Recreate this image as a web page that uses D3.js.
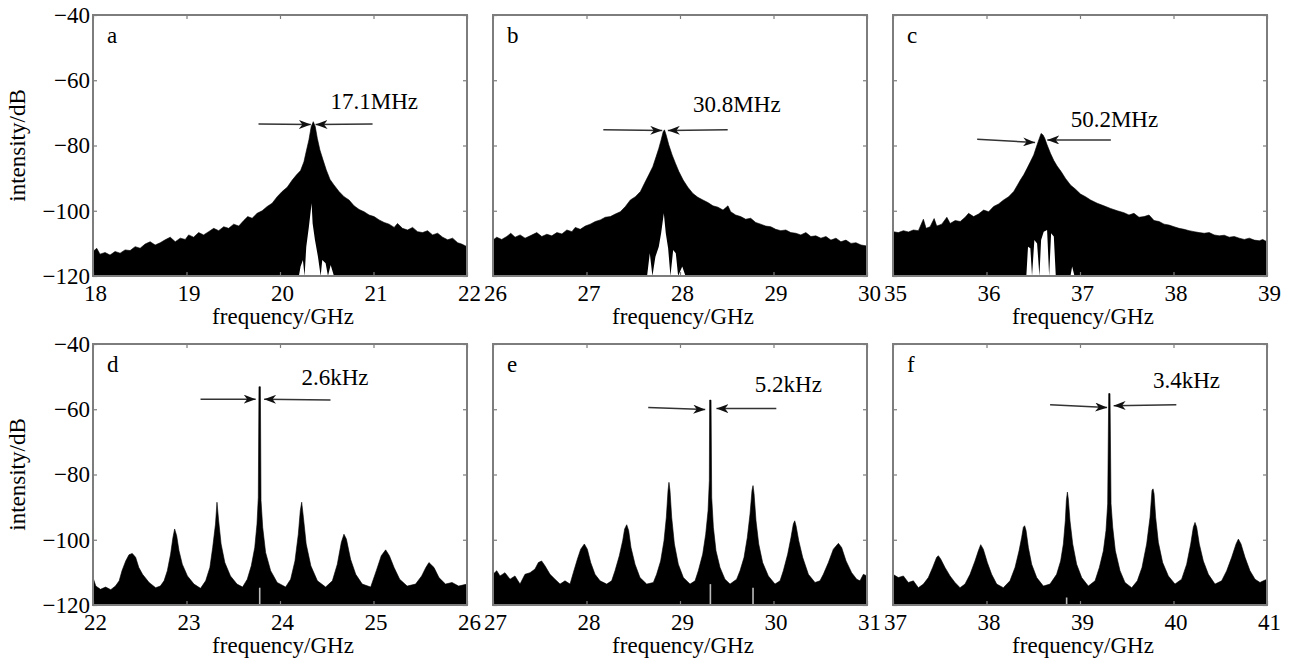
<!DOCTYPE html>
<html>
<head>
<meta charset="utf-8">
<script src="https://cdn.jsdelivr.net/npm/d3@7"></script>
<style>
  body { margin: 0; background: #fff; }
  text { font-family: "Liberation Serif", "Times New Roman", serif; }
</style>
</head>
<body>
<script>
// ---- data (GHz, dB) ----
var yTicks = [-40, -60, -80, -100, -120];
var xTicksA = [18, 19, 20, 21, 22], xTicksB = [26, 27, 28, 29, 30], xTicksC = [35, 36, 37, 38, 39];
var xTicksD = [22, 23, 24, 25, 26], xTicksE = [27, 28, 29, 30, 31], xTicksF = [37, 38, 39, 40, 41];

var freqA = [18.0,18.04,18.075,18.129,18.182,18.236,18.29,18.343,18.397,18.451,18.504,18.558,18.611,18.665,18.719,18.772,18.826,18.88,18.933,18.987,19.023,19.076,19.13,19.183,19.237,19.291,19.344,19.398,19.451,19.505,19.559,19.612,19.655,19.702,19.755,19.809,19.863,19.916,19.97,20.023,20.077,20.131,20.177,20.22,20.256,20.284,20.309,20.334,20.356,20.377,20.399,20.427,20.46,20.495,20.535,20.577,20.631,20.685,20.738,20.792,20.846,20.899,20.953,21.006,21.06,21.114,21.167,21.221,21.257,21.31,21.364,21.418,21.471,21.525,21.578,21.632,21.686,21.739,21.793,21.846,21.9,21.943,22.0];
var dbA = [-112.5,-111.5,-113.3,-112.8,-113.6,-112.5,-113.0,-112.0,-112.2,-111.0,-111.5,-110.2,-109.5,-110.5,-109.8,-108.9,-108.1,-109.5,-108.4,-108.8,-107.4,-108.1,-106.7,-107.4,-106.4,-105.4,-106.1,-104.9,-105.4,-104.1,-104.7,-103.0,-101.8,-102.3,-100.8,-100.0,-98.7,-97.7,-95.7,-94.1,-92.8,-90.6,-89.0,-87.7,-85.0,-81.4,-78.3,-74.2,-72.7,-74.2,-77.8,-81.4,-84.4,-87.5,-90.4,-92.1,-94.1,-95.7,-96.7,-98.5,-99.6,-100.3,-101.3,-101.8,-102.8,-103.6,-104.1,-105.1,-103.9,-105.4,-105.9,-105.1,-106.4,-106.7,-106.1,-107.4,-106.9,-108.1,-108.9,-108.4,-109.8,-110.2,-111.0];
var gapFreqA = [20.202,20.22,20.245,20.263,20.281,20.309,20.338,20.349,20.374,20.406,20.435,20.452,20.488,20.513,20.542,20.577];
var gapDbA = [-120,-117.1,-115.1,-120,-111.0,-104.9,-97.7,-103.9,-109.0,-114.1,-120,-115.1,-116.1,-120,-116.6,-120];

var freqB = [26.0,26.04,26.093,26.147,26.19,26.236,26.29,26.343,26.397,26.468,26.522,26.576,26.629,26.683,26.737,26.79,26.844,26.88,26.933,26.987,27.04,27.094,27.148,27.201,27.255,27.308,27.362,27.416,27.469,27.523,27.577,27.62,27.666,27.709,27.745,27.773,27.798,27.82,27.834,27.852,27.88,27.916,27.952,27.988,28.034,28.084,28.138,28.191,28.245,28.299,28.352,28.406,28.46,28.513,28.542,28.595,28.649,28.703,28.756,28.81,28.863,28.917,28.971,29.024,29.078,29.132,29.185,29.239,29.292,29.346,29.4,29.453,29.507,29.561,29.614,29.668,29.721,29.775,29.829,29.882,29.936,30.0];
var dbB = [-109.0,-108.1,-108.8,-107.9,-106.9,-108.1,-107.4,-108.4,-107.7,-106.7,-107.9,-107.2,-107.7,-106.7,-107.1,-105.9,-106.4,-105.1,-105.7,-104.7,-104.1,-103.3,-102.8,-102.0,-101.8,-101.0,-100.3,-98.7,-96.7,-95.7,-94.1,-91.6,-89.0,-86.5,-83.4,-80.9,-78.3,-75.8,-75.2,-76.8,-79.8,-82.9,-85.5,-88.0,-90.6,-92.8,-94.7,-95.9,-96.7,-97.5,-98.5,-98.9,-99.8,-98.5,-100.3,-101.3,-101.8,-102.6,-102.3,-103.6,-104.1,-104.7,-104.9,-105.7,-106.1,-105.9,-106.7,-106.9,-107.4,-106.7,-107.9,-107.7,-108.4,-107.9,-109.0,-108.4,-109.5,-109.0,-110.0,-109.8,-110.5,-110.8];
var gapFreqB = [27.648,27.677,27.705,27.737,27.773,27.798,27.827,27.848,27.873,27.898,27.927,27.955,27.98,28.024,28.059];
var gapDbB = [-120,-113.0,-120,-114.1,-111.0,-106.9,-100.8,-106.9,-111.5,-120,-112.0,-113.0,-120,-117.1,-120];

var freqC = [35.0,35.057,35.111,35.165,35.218,35.272,35.325,35.354,35.397,35.44,35.468,35.522,35.576,35.611,35.665,35.719,35.772,35.808,35.862,35.915,35.969,36.023,36.076,36.13,36.183,36.237,36.291,36.326,36.362,36.398,36.434,36.469,36.505,36.534,36.559,36.584,36.605,36.623,36.648,36.684,36.72,36.755,36.798,36.845,36.898,36.952,37.006,37.059,37.113,37.184,37.256,37.327,37.399,37.47,37.524,37.577,37.631,37.685,37.738,37.792,37.846,37.899,37.953,38.006,38.06,38.114,38.167,38.221,38.275,38.328,38.382,38.435,38.489,38.543,38.596,38.65,38.703,38.757,38.811,38.864,38.918,38.954,39.0];
var dbC = [-106.4,-106.7,-106.1,-106.5,-105.9,-106.1,-102.6,-105.4,-104.9,-102.4,-104.7,-104.1,-102.0,-103.9,-103.0,-103.3,-102.0,-100.8,-101.8,-101.0,-99.8,-100.3,-98.7,-97.9,-96.7,-95.7,-94.1,-92.4,-90.6,-89.0,-87.0,-85.0,-82.9,-80.4,-78.3,-76.3,-76.8,-77.8,-79.8,-82.4,-84.6,-86.3,-88.0,-90.1,-92.1,-93.4,-94.9,-95.7,-96.7,-97.7,-98.5,-99.3,-100.0,-100.6,-101.3,-100.8,-102.0,-101.8,-101.3,-103.0,-103.3,-104.1,-104.4,-104.9,-105.4,-105.7,-106.1,-106.4,-106.7,-106.9,-106.7,-107.4,-107.7,-107.5,-108.1,-107.9,-108.4,-108.8,-108.4,-109.0,-109.2,-108.8,-109.5];
var gapFreqC = [36.426,36.444,36.469,36.487,36.512,36.541,36.566,36.584,36.612,36.648,36.67,36.691,36.72,36.741,36.898,36.916,36.941];
var gapDbC = [-120,-111.0,-111.5,-120,-109.0,-110.0,-120,-109.0,-106.4,-105.9,-120,-106.9,-107.9,-120,-120,-117.1,-120];

var freqD = [22.0,22.03,22.08,22.135,22.19,22.24,22.28,22.31,22.35,22.385,22.42,22.456,22.49,22.53,22.6,22.67,22.72,22.76,22.795,22.83,22.855,22.873,22.895,22.92,22.955,23.01,23.08,23.15,23.205,23.25,23.28,23.31,23.326,23.344,23.37,23.41,23.47,23.54,23.6,23.65,23.693,23.73,23.754,23.768,23.775,23.79,23.797,23.815,23.846,23.9,23.97,24.06,24.114,24.16,24.196,24.217,24.232,24.25,24.28,24.33,24.4,24.488,24.56,24.613,24.656,24.684,24.71,24.755,24.81,24.88,24.97,25.03,25.083,25.13,25.17,25.22,25.28,25.36,25.45,25.515,25.56,25.593,25.647,25.7,25.77,25.84,25.91,26.0];
var dbD = [-111.6,-114.2,-115.2,-114.5,-115.3,-114.2,-112.6,-109.5,-106.5,-104.6,-104.2,-105.4,-108.5,-110.6,-113.1,-114.7,-114.2,-112.6,-109.5,-104.4,-99.3,-96.7,-98.8,-103.4,-107.5,-111.1,-113.6,-114.9,-112.6,-108.5,-102.4,-95.2,-88.5,-94.2,-101.3,-107.0,-111.1,-113.6,-114.5,-112.1,-108.0,-102.4,-95.2,-87.0,-53.1,-53.1,-88.0,-96.2,-103.9,-109.5,-113.1,-114.5,-112.1,-106.5,-98.3,-91.1,-88.5,-93.1,-101.3,-108.0,-112.6,-114.5,-112.6,-107.5,-100.8,-98.3,-99.8,-106.0,-110.6,-113.6,-114.5,-109.5,-104.9,-103.1,-104.9,-108.5,-112.1,-114.2,-113.6,-111.1,-108.5,-107.0,-108.5,-111.6,-113.6,-113.1,-114.2,-113.6];
var notchFreqD = [23.783], notchDbD = [-114.7];

var freqE = [27.0,27.04,27.075,27.128,27.182,27.235,27.289,27.342,27.396,27.449,27.485,27.52,27.556,27.61,27.663,27.717,27.77,27.824,27.859,27.902,27.938,27.977,28.009,28.045,28.091,28.145,28.216,28.269,28.305,28.351,28.387,28.408,28.43,28.451,28.476,28.519,28.572,28.644,28.715,28.75,28.793,28.829,28.854,28.872,28.882,28.893,28.911,28.94,28.982,29.036,29.107,29.161,29.196,29.243,29.275,29.3,29.314,29.317,29.332,29.339,29.357,29.385,29.428,29.481,29.535,29.606,29.642,29.685,29.72,29.749,29.77,29.781,29.792,29.813,29.842,29.884,29.945,30.016,30.07,30.105,30.152,30.187,30.212,30.227,30.241,30.27,30.312,30.373,30.444,30.497,30.533,30.587,30.64,30.694,30.729,30.776,30.836,30.89,30.925,30.961,31.0];
var dbE = [-110.6,-109.5,-111.1,-110.1,-112.1,-111.1,-113.6,-110.6,-110.1,-109.0,-107.0,-106.5,-108.0,-110.6,-112.1,-113.6,-112.6,-113.6,-110.1,-106.0,-102.9,-101.3,-102.9,-107.0,-110.6,-112.6,-113.6,-112.6,-109.5,-104.9,-100.3,-96.7,-95.4,-97.2,-102.4,-107.5,-111.6,-113.6,-113.1,-110.6,-106.5,-100.3,-93.1,-84.9,-82.4,-84.9,-93.1,-101.3,-107.5,-111.6,-113.6,-112.6,-109.5,-104.4,-98.3,-91.1,-81.8,-57.2,-57.2,-87.0,-96.2,-103.4,-108.5,-112.1,-113.6,-112.1,-109.5,-105.4,-99.3,-92.1,-84.9,-83.4,-85.9,-94.2,-101.3,-107.0,-111.1,-113.6,-112.6,-109.5,-104.4,-99.3,-95.2,-94.2,-95.7,-100.3,-105.4,-110.6,-113.1,-112.6,-110.6,-107.0,-102.9,-101.1,-102.4,-106.5,-110.1,-112.1,-112.6,-110.6,-111.1];
var notchFreqE = [29.325, 29.781], notchDbE = [-113.6, -114.7];

var freqF = [37.0,37.057,37.111,37.164,37.218,37.271,37.325,37.378,37.424,37.467,37.485,37.51,37.556,37.61,37.663,37.717,37.77,37.824,37.877,37.913,37.938,37.966,38.009,38.055,38.109,38.18,38.251,38.305,38.348,38.376,38.394,38.408,38.423,38.448,38.483,38.537,38.608,38.679,38.75,38.793,38.822,38.843,38.854,38.865,38.875,38.893,38.922,38.964,39.018,39.089,39.161,39.207,39.25,39.278,39.296,39.307,39.321,39.332,39.35,39.378,39.428,39.481,39.553,39.613,39.663,39.713,39.749,39.77,39.781,39.792,39.809,39.838,39.884,39.945,40.016,40.087,40.141,40.184,40.212,40.23,40.248,40.276,40.319,40.373,40.444,40.515,40.569,40.622,40.669,40.694,40.722,40.765,40.818,40.872,40.925,40.961,41.0];
var dbF = [-110.6,-111.6,-111.1,-113.1,-112.6,-114.7,-113.6,-111.6,-108.5,-105.4,-104.9,-105.9,-108.5,-111.1,-113.1,-114.7,-113.6,-110.6,-106.5,-103.4,-101.5,-102.9,-107.0,-110.6,-113.6,-114.7,-112.6,-108.5,-103.4,-99.3,-96.2,-95.7,-97.2,-102.4,-107.5,-111.6,-114.2,-113.6,-110.6,-106.5,-101.3,-94.2,-88.0,-85.4,-87.5,-94.2,-101.3,-107.5,-111.6,-114.2,-112.6,-108.5,-103.4,-97.2,-89.0,-55.2,-55.2,-89.0,-96.2,-103.4,-109.5,-113.1,-114.7,-112.6,-108.5,-101.3,-93.1,-84.9,-84.4,-85.9,-93.1,-100.8,-107.0,-111.1,-113.6,-112.1,-107.5,-101.3,-96.2,-94.7,-96.2,-101.3,-106.5,-110.6,-113.6,-112.6,-109.5,-105.4,-101.3,-99.8,-101.3,-105.4,-109.5,-112.1,-113.1,-112.6,-112.1];
var notchFreqF = [38.857], notchDbF = [-117.7];

// linewidth annotations: [x1, y1, x2(tip), y2] for the two arrows, and the label
var annA = { text: "17.1MHz", label: [20.54, -68.8], arrows: [[19.77, -73.4, 20.33, -73.6], [20.99, -73.4, 20.38, -73.6]] };
var annB = { text: "30.8MHz", label: [28.14, -69.6], arrows: [[27.18, -75.2, 27.81, -75.4], [28.51, -75.2, 27.87, -75.4]] };
var annC = { text: "50.2MHz", label: [36.90, -74.2], arrows: [[35.90, -78.1, 36.52, -79.1], [37.33, -78.3, 36.65, -78.3]] };
var annD = { text: "2.6kHz", label: [24.23, -52.6], arrows: [[23.15, -56.9, 23.74, -56.9], [24.54, -57.2, 23.83, -56.9]] };
var annE = { text: "5.2kHz", label: [29.80, -54.7], arrows: [[28.66, -59.5, 29.27, -60.1], [30.03, -59.8, 29.39, -59.8]] };
var annF = { text: "3.4kHz", label: [39.78, -53.6], arrows: [[38.68, -58.6, 39.29, -59.5], [40.03, -58.6, 39.36, -58.9]] };

var panels = [
  { key: "a", col: 0, row: 0, ticks: xTicksA, freq: freqA, db: dbA, gapFreq: gapFreqA, gapDb: gapDbA, notchFreq: [], notchDb: [], ann: annA },
  { key: "b", col: 1, row: 0, ticks: xTicksB, freq: freqB, db: dbB, gapFreq: gapFreqB, gapDb: gapDbB, notchFreq: [], notchDb: [], ann: annB },
  { key: "c", col: 2, row: 0, ticks: xTicksC, freq: freqC, db: dbC, gapFreq: gapFreqC, gapDb: gapDbC, notchFreq: [], notchDb: [], ann: annC },
  { key: "d", col: 0, row: 1, ticks: xTicksD, freq: freqD, db: dbD, gapFreq: [], gapDb: [], notchFreq: notchFreqD, notchDb: notchDbD, ann: annD },
  { key: "e", col: 1, row: 1, ticks: xTicksE, freq: freqE, db: dbE, gapFreq: [], gapDb: [], notchFreq: notchFreqE, notchDb: notchDbE, ann: annE },
  { key: "f", col: 2, row: 1, ticks: xTicksF, freq: freqF, db: dbF, gapFreq: [], gapDb: [], notchFreq: notchFreqF, notchDb: notchDbF, ann: annF }
];

// ---- layout ----
var lefts = [93, 493, 893], tops = [15, 344];
var width = 374, height = 261;
var frameColor = "#7d7d7d";
var fontSize = 23;
var serif = "'Liberation Serif','Times New Roman',serif";

var svg = d3.select("body").append("svg")
    .attr("width", 1289)
    .attr("height", 661);

var defs = svg.append("defs");
defs.append("marker")
    .attr("id", "arrowhead")
    .attr("viewBox", "0 0 12 9")
    .attr("refX", 12)
    .attr("refY", 4.5)
    .attr("markerWidth", 12)
    .attr("markerHeight", 9)
    .attr("markerUnits", "userSpaceOnUse")
    .attr("orient", "auto")
  .append("path")
    .attr("d", "M0,0L12,4.5L0,9L3.5,4.5Z")
    .attr("fill", "#111");

panels.forEach(function (p) {
    var x = d3.scaleLinear().domain([p.ticks[0], p.ticks[p.ticks.length - 1]]).range([0, width]);
    var y = d3.scaleLinear().domain([-120, -40]).range([height, 0]);

    var g = svg.append("g")
        .attr("transform", "translate(" + lefts[p.col] + "," + tops[p.row] + ")");

    defs.append("clipPath").attr("id", "clip-" + p.key)
      .append("rect").attr("width", width).attr("height", height);

    var plot = g.append("g").attr("clip-path", "url(#clip-" + p.key + ")");

    // filled spectrum
    var area = d3.area()
        .x(function (d) { return x(d[0]); })
        .y0(height)
        .y1(function (d) { return y(d[1]); });

    plot.append("path")
        .datum(d3.zip(p.freq, p.db))
        .attr("d", area)
        .attr("fill", "#000")
        .attr("stroke", "#000")
        .attr("stroke-width", 0.6);

    // white hollow under the carrier
    if (p.gapFreq.length) {
        plot.append("path")
            .datum(d3.zip(p.gapFreq, p.gapDb))
            .attr("d", area)
            .attr("fill", "#fff");
    }

    // faint light lines at the foot of some peaks
    plot.selectAll(".notch")
        .data(d3.zip(p.notchFreq, p.notchDb))
        .enter().append("line")
        .attr("class", "notch")
        .attr("x1", function (d) { return x(d[0]); })
        .attr("x2", function (d) { return x(d[0]); })
        .attr("y1", height)
        .attr("y2", function (d) { return y(d[1]); })
        .attr("stroke", "#bbb")
        .attr("stroke-width", 1.6);

    // axes, ticks pointing inward on all four sides
    g.append("g")
        .attr("class", "xaxis")
        .attr("transform", "translate(0," + height + ")")
        .call(d3.axisBottom(x).tickValues(p.ticks).tickSize(-4).tickPadding(9).tickFormat(d3.format("d")));
    g.append("g")
        .call(d3.axisTop(x).tickValues(p.ticks).tickSize(-4).tickFormat(""));
    g.append("g")
        .call(d3.axisLeft(y).tickValues(yTicks).tickSize(-4).tickPadding(3)
            .tickFormat(p.col === 0 ? d3.format("d") : ""));
    g.append("g")
        .attr("transform", "translate(" + width + ",0)")
        .call(d3.axisRight(y).tickValues(yTicks).tickSize(-4).tickFormat(""));

    g.selectAll(".domain").remove();
    g.selectAll(".tick line").attr("stroke", frameColor).attr("stroke-width", 1.2);
    g.selectAll(".tick text")
        .attr("fill", "#000")
        .attr("font-family", serif)
        .attr("font-size", fontSize);
    g.selectAll(".xaxis .tick text").attr("dx", 2);

    // frame
    g.append("rect")
        .attr("width", width)
        .attr("height", height)
        .attr("fill", "none")
        .attr("stroke", frameColor)
        .attr("stroke-width", 2);

    // panel letter
    g.append("text")
        .attr("x", 14)
        .attr("y", 28)
        .style("font-size", fontSize + "px")
        .text(p.key);

    // x label
    g.append("text")
        .attr("x", width / 2 + 3)
        .attr("y", height + 48)
        .attr("text-anchor", "middle")
        .style("font-size", fontSize + "px")
        .text("frequency/GHz");

    // linewidth arrows and value
    g.selectAll(".arrow")
        .data(p.ann.arrows)
        .enter().append("line")
        .attr("class", "arrow")
        .attr("x1", function (d) { return x(d[0]); })
        .attr("y1", function (d) { return y(d[1]); })
        .attr("x2", function (d) { return x(d[2]); })
        .attr("y2", function (d) { return y(d[3]); })
        .attr("stroke", "#333")
        .attr("stroke-width", 1.5)
        .attr("marker-end", "url(#arrowhead)");

    g.append("text")
        .attr("x", x(p.ann.label[0]))
        .attr("y", y(p.ann.label[1]))
        .style("font-size", fontSize + "px")
        .text(p.ann.text);
});

// y labels, one per row
tops.forEach(function (t) {
    svg.append("text")
        .attr("transform", "translate(25," + (t + height / 2) + ") rotate(-90)")
        .attr("text-anchor", "middle")
        .style("font-size", fontSize + "px")
        .text("intensity/dB");
});
</script>
</body>
</html>
